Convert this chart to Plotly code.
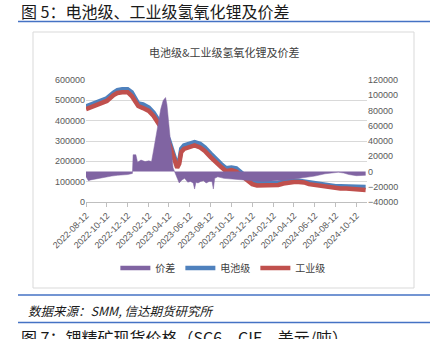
import plotly.graph_objects as go

# ---- data ----
line_dates = [
    "2022-08-12", "2022-09-12", "2022-10-12", "2022-11-01", "2022-11-12", "2022-11-26",
    "2022-12-12", "2022-12-24", "2023-01-05", "2023-01-12", "2023-01-26", "2023-02-12",
    "2023-02-26", "2023-03-12", "2023-03-26", "2023-04-12", "2023-04-20", "2023-04-28",
    "2023-05-06", "2023-05-12", "2023-05-18", "2023-05-26", "2023-06-12", "2023-06-26",
    "2023-07-12", "2023-07-26", "2023-08-12", "2023-08-26", "2023-09-12", "2023-09-26",
    "2023-10-12", "2023-10-26", "2023-11-12", "2023-11-26", "2023-12-12", "2023-12-26",
    "2024-01-12", "2024-01-26", "2024-02-12", "2024-02-26", "2024-03-12", "2024-03-26",
    "2024-04-12", "2024-04-26", "2024-05-12", "2024-05-26", "2024-06-12", "2024-06-26",
    "2024-07-12", "2024-07-26", "2024-08-12", "2024-08-26", "2024-09-12", "2024-09-26",
    "2024-10-12", "2024-10-26", "2024-11-08",
]
battery = [
    470000, 488000, 510000, 538000, 550000, 554000,
    554000, 540000, 502000, 484000, 480000, 465000,
    440000, 405000, 366000, 306000, 262000, 212000,
    180000, 200000, 262000, 278000, 286000, 294000,
    286000, 268000, 238000, 212000, 186000, 166000,
    170000, 165000, 143000, 122000, 100000, 92000,
    92000, 92000, 92000, 94000, 100000, 104000,
    106000, 104000, 100000, 94000, 90000, 86000,
    82000, 80000, 78000, 77000, 77000, 76000,
    75000, 74000, 74000,
]
industrial = [
    457000, 475000, 497000, 526000, 536000, 540000,
    540000, 521000, 487000, 472000, 462000, 448000,
    423000, 389000, 350000, 290000, 246000, 197000,
    168000, 188000, 246000, 261000, 270000, 278000,
    268000, 251000, 221000, 197000, 172000, 152000,
    157000, 150000, 128000, 108000, 88000, 81000,
    81000, 81000, 81000, 84000, 91000, 96000,
    98000, 98000, 96000, 88000, 84000, 79000,
    74000, 71000, 69000, 66000, 66000, 64000,
    61000, 59000, 59000,
]
diff_dates = [
    "2022-08-12", "2022-08-19", "2022-08-26", "2022-09-12", "2022-09-26", "2022-10-12",
    "2022-10-26", "2022-11-12", "2022-11-26", "2022-12-12", "2022-12-26", "2022-12-28",
    "2023-01-05", "2023-01-10", "2023-01-20", "2023-02-01", "2023-02-12", "2023-02-20",
    "2023-02-26", "2023-03-05", "2023-03-12", "2023-03-19", "2023-03-26", "2023-04-02",
    "2023-04-06", "2023-04-12", "2023-04-18", "2023-04-24", "2023-04-30", "2023-05-06",
    "2023-05-12", "2023-05-20", "2023-05-28", "2023-06-06", "2023-06-14", "2023-06-22",
    "2023-06-26", "2023-06-30", "2023-07-06", "2023-07-14", "2023-07-22", "2023-07-30",
    "2023-08-08", "2023-08-16", "2023-08-20", "2023-08-24", "2023-09-02", "2023-09-20",
    "2023-10-12", "2023-11-12", "2023-12-12", "2024-01-12", "2024-02-12", "2024-03-12",
    "2024-04-12", "2024-05-12", "2024-06-12", "2024-07-12", "2024-08-01", "2024-08-20",
    "2024-09-05", "2024-09-20", "2024-10-12", "2024-11-08",
]
spread = [
    -7000, -12000, -11000, -9500, -8000, -7000,
    -6000, -5000, -4500, -4000, -2500, 22000,
    22000, 12000, 15000, 13000, 14000, 13000,
    28000, 45000, 65000, 82000, 93000, 97000,
    88000, 60000, 25000, 5000, -2000, -10000,
    -15000, -11000, -9000, -14000, -13000, -15000,
    -23000, -14000, -15000, -13000, -12000, -15000,
    -13000, -13000, -23000, -9000, -7000, -9000,
    -10000, -11000, -12000, -13000, -12500, -11500,
    -10000, -8500, -6000, -3000, -1500, -1000,
    -2000, -4000, -5500, -5000,
]
tick_dates = [
    "2022-08-12", "2022-10-12", "2022-12-12", "2023-02-12", "2023-04-12", "2023-06-12",
    "2023-08-12", "2023-10-12", "2023-12-12", "2024-02-12", "2024-04-12", "2024-06-12",
    "2024-08-12", "2024-10-12",
]

W, H = 437, 339
def px(x):
    return x / W
def py(y):
    return 1 - y / H

PURPLE = "#8064a2"
BLUE = "#4f81bd"
RED = "#c0504d"
CJK = "Noto Sans CJK SC"
NUM = "Liberation Sans, Arial"

fig = go.Figure()
fig.add_trace(go.Scatter(x=diff_dates, y=spread, yaxis="y2", mode="lines",
                         line=dict(color=PURPLE, width=0.5), fill="tozeroy",
                         fillcolor=PURPLE, showlegend=False, hoverinfo="skip"))
fig.add_trace(go.Scatter(x=line_dates, y=battery, mode="lines", name="电池级",
                         line=dict(color=BLUE, width=4.5), showlegend=False))
fig.add_trace(go.Scatter(x=line_dates, y=industrial, mode="lines", name="工业级",
                         line=dict(color=RED, width=4.5), showlegend=False))
# legend entries
fig.add_trace(go.Scatter(x=[None], y=[None], mode="lines", name="价差",
                         line=dict(color=PURPLE, width=4.5)))
fig.add_trace(go.Scatter(x=[None], y=[None], mode="lines", name="电池级",
                         line=dict(color=BLUE, width=4.5)))
fig.add_trace(go.Scatter(x=[None], y=[None], mode="lines", name="工业级",
                         line=dict(color=RED, width=4.5)))

tickfont = dict(family=NUM, size=9, color="#595959")
fig.update_layout(
    width=W, height=H,
    margin=dict(l=0, r=0, t=0, b=0),
    paper_bgcolor="white", plot_bgcolor="white",
    xaxis=dict(type="date", domain=[px(86), px(367)],
               range=["2022-08-12", "2024-11-12"],
               tickvals=tick_dates, ticktext=tick_dates, tickangle=-45,
               ticks="outside", ticklen=4, tickcolor="#bfbfbf",
               showline=True, linecolor="#bfbfbf", linewidth=1,
               showgrid=False, zeroline=False, tickfont=tickfont,
               automargin=False, fixedrange=True),
    yaxis=dict(domain=[py(202), py(80)], range=[0, 600000], dtick=100000,
               tickformat="d", showgrid=True, gridcolor="#d9d9d9", gridwidth=1,
               zeroline=False, showline=False, tickfont=tickfont, automargin=False),
    yaxis2=dict(overlaying="y", side="right", anchor="x", range=[-40000, 120000],
                dtick=20000, tickformat="d", showgrid=False, zeroline=False,
                showline=False, tickfont=tickfont, automargin=False),
    legend=dict(orientation="h", x=0.51, xanchor="center", y=py(268), yanchor="middle",
                font=dict(family=CJK, size=10, color="#404040"),
                itemwidth=30, bgcolor="rgba(0,0,0,0)"),
    shapes=[
        dict(type="line", xref="paper", yref="paper", x0=px(18), x1=px(430),
             y0=py(21.5), y1=py(21.5), line=dict(color="#4472c4", width=1.5)),
        dict(type="rect", xref="paper", yref="paper", x0=px(33), x1=px(414),
             y0=py(288), y1=py(32), line=dict(color="#d9d9d9", width=1)),
        dict(type="line", xref="paper", yref="paper", x0=px(18), x1=px(430),
             y0=py(295), y1=py(295), line=dict(color="#4472c4", width=1.5)),
        dict(type="line", xref="paper", yref="paper", x0=px(18), x1=px(430),
             y0=py(322.5), y1=py(322.5), line=dict(color="#4472c4", width=1.5)),
    ],
    annotations=[
        dict(text="图 5：电池级、工业级氢氧化锂及价差", xref="paper", yref="paper",
             x=px(19), y=py(11), xanchor="left", yanchor="middle", showarrow=False,
             font=dict(family=CJK, size=16, color="#1a1a1a")),
        dict(text="电池级&工业级氢氧化锂及价差", xref="paper", yref="paper",
             x=px(224), y=py(52), xanchor="center", yanchor="middle", showarrow=False,
             font=dict(family=CJK, size=11, color="#404040")),
        dict(text="<i>数据来源：SMM, 信达期货研究所</i>", xref="paper", yref="paper",
             x=px(26), y=py(310), xanchor="left", yanchor="middle", showarrow=False,
             font=dict(family=CJK, size=12.5, color="#1a1a1a")),
        dict(text="图 7：锂精矿现货价格（SC6，CIF，美元/吨）", xref="paper", yref="paper",
             x=px(19), y=py(337), xanchor="left", yanchor="middle", showarrow=False,
             font=dict(family=CJK, size=16, color="#1a1a1a")),
    ],
)

fig.write_html("out.html")
